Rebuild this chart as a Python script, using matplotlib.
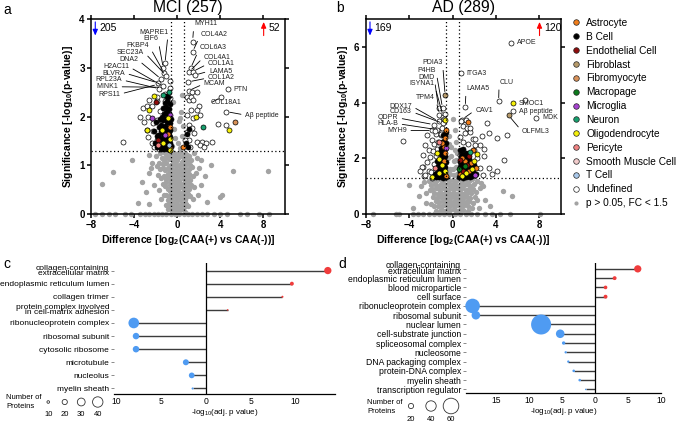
import numpy as np
import matplotlib.pyplot as plt
from matplotlib.lines import Line2D

plt.rcParams['font.family'] = ['Liberation Sans', 'DejaVu Sans']
plt.rcParams['mathtext.default'] = 'regular'

# ---------------- cell type colours ----------------
cell_types = ['Astrocyte', 'B Cell', 'Endothelial Cell', 'Fibroblast', 'Fibromyocyte',
              'Macropage', 'Microglia', 'Neuron', 'Oligodendrocyte', 'Pericyte',
              'Smooth Muscle Cell', 'T Cell', 'Undefined']
cell_colors = ['#f07d1a', '#000000', '#8e0c0c', '#b79b6b', '#d9925a', '#0c7a1c',
               '#a744d0', '#17a06e', '#f5f00a', '#f08383', '#f2cccc', '#a9c8ea', '#ffffff']
gray_color = '#a3a3a3'

# ---------------- panel a : MCI ----------------
mci_gray = [
    (0.35, 2.1), (0.2, 1.9), (-0.3, 1.75), (0.4, 1.6), (0.1, 1.45), (-0.4, 2.3), (0.45, 2.45),
    (0.3, 1.35), (-0.2, 1.55), (0.5, 1.8), (0.25, 1.96), (-0.45, 1.4),
    (-1.1, 1.25), (-0.9, 1.2), (-0.7, 1.27), (-0.5, 1.22), (-0.3, 1.26), (-0.1, 1.2), (0.1, 1.24),
    (0.3, 1.28), (0.5, 1.2), (0.7, 1.25), (0.9, 1.22), (1.1, 1.18), (-1.2, 1.1), (-1.0, 1.05),
    (-0.8, 1.12), (-0.6, 1.0), (-0.4, 1.08), (-0.2, 1.02), (0.0, 1.1), (0.2, 1.0), (0.4, 1.06),
    (0.6, 1.12), (0.8, 1.02), (1.0, 1.08), (1.3, 1.1), (-1.4, 1.15), (-1.3, 0.95), (-1.1, 0.9),
    (-0.9, 0.95), (-0.7, 0.88), (-0.5, 0.92), (-0.3, 0.85), (-0.1, 0.9), (0.1, 0.86), (0.3, 0.93),
    (0.5, 0.87), (0.7, 0.94), (0.9, 0.88), (1.1, 0.92), (1.4, 0.96), (-1.6, 0.92), (-1.2, 0.78),
    (-1.0, 0.72), (-0.8, 0.76), (-0.6, 0.7), (-0.4, 0.74), (-0.2, 0.68), (0.0, 0.75), (0.2, 0.7),
    (0.4, 0.77), (0.6, 0.72), (0.8, 0.68), (1.0, 0.75), (1.2, 0.7), (1.5, 0.78), (-1.5, 0.74),
    (-1.8, 0.8), (-1.1, 0.58), (-0.9, 0.52), (-0.7, 0.6), (-0.5, 0.55), (-0.3, 0.5), (-0.1, 0.58),
    (0.1, 0.52), (0.3, 0.6), (0.5, 0.54), (0.7, 0.5), (0.9, 0.58), (1.1, 0.52), (1.3, 0.6),
    (-1.3, 0.62), (1.6, 0.55), (-1.7, 0.5), (-1.0, 0.4), (-0.8, 0.35), (-0.6, 0.42), (-0.4, 0.36),
    (-0.2, 0.4), (0.0, 0.33), (0.2, 0.41), (0.4, 0.35), (0.6, 0.4), (0.8, 0.34), (1.0, 0.42),
    (1.2, 0.36), (-1.2, 0.38), (-1.5, 0.3), (1.5, 0.3), (-0.8, 0.2), (-0.6, 0.15), (-0.4, 0.22),
    (-0.2, 0.16), (0.0, 0.2), (0.2, 0.14), (0.4, 0.21), (0.6, 0.15), (0.8, 0.2), (-1.0, 0.18),
    (1.0, 0.16), (-0.5, 0.07), (-0.1, 0.06), (0.3, 0.08), (0.7, 0.05),
    (-1.0, 1.17), (-0.6, 1.15), (-0.2, 1.14), (0.2, 1.16), (0.6, 1.18), (1.0, 1.15), (-1.3, 1.02),
    (-0.7, 0.98), (-0.1, 0.99), (0.5, 1.0), (1.2, 1.0), (-0.9, 0.82), (-0.5, 0.8), (-0.1, 0.81),
    (0.3, 0.82), (0.7, 0.8), (1.1, 0.83), (-1.0, 0.65), (-0.6, 0.65), (-0.2, 0.64), (0.2, 0.66),
    (0.6, 0.64), (1.0, 0.66), (-0.7, 0.47), (-0.3, 0.45), (0.1, 0.46), (0.5, 0.45), (0.9, 0.47),
    (-0.9, 0.28), (-0.5, 0.29), (-0.1, 0.27), (0.3, 0.28), (0.7, 0.29), (-0.3, 0.1), (0.1, 0.12),
    (0.5, 0.1), (-0.9, 0.1), (1.7, 0.85), (-1.7, 1.05), (1.6, 1.25), (-1.6, 1.25), (2.2, 1.1),
    (-2.4, 0.95),
    (-2.0, 1.2), (-2.3, 1.05), (-1.9, 0.98), (-2.6, 0.85), (-2.2, 0.6), (-3.3, 0.65), (-3.6, 0.23),
    (-2.6, 0.2), (-2.9, 0.45), (-7.0, 0.62), (-5.93, 0.87), (-2.6, 1.21), (1.8, 1.15), (2.0, 0.95),
    (2.56, 0.77), (2.2, 0.6), (3.95, 0.34), (4.2, 0.4), (5.2, 0.88), (8.4, 0.88), (1.9, 0.4),
    (2.8, 0.25), (3.1, 1.0), (-4.2, 1.1),
    (-7.6, 0), (-7.0, 0), (-6.3, 0), (-5.77, 0), (-4.85, 0), (-4.3, 0), (-3.5, 0), (-3.0, 0),
    (-2.6, 0), (-2.2, 0), (-1.8, 0), (-1.4, 0), (-1.0, 0), (-0.6, 0), (-0.2, 0), (0.2, 0), (0.6, 0),
    (1.0, 0), (1.4, 0), (1.8, 0), (2.3, 0), (2.8, 0), (3.4, 0), (4.0, 0), (4.6, 0), (5.8, 0),
    (6.5, 0), (7.6, 0), (8.5, 0),
]
mci_undefined = [
    (-1.14, 3.09), (-1.29, 2.99), (-1.23, 2.90), (-1.04, 2.84), (-1.50, 2.77), (-0.67, 2.72),
    (-1.80, 2.69), (-1.29, 2.62), (-1.66, 2.57), (-0.67, 2.58), (-1.14, 2.47), (-1.91, 2.40),
    (-5.0, 1.48), (-3.50, 2.0), (-3.15, 2.17), (-2.78, 2.22), (-2.38, 2.22), (-1.91, 2.31),
    (-2.69, 1.99), (-3.09, 1.89), (-2.84, 1.73), (-2.69, 1.58), (-1.91, 1.51), (-2.28, 1.71),
    (-2.15, 1.38), (-1.66, 1.34), (-1.29, 1.48), (-2.22, 1.86), (-1.60, 2.12), (-0.82, 2.19),
    (-0.88, 2.05), (-0.67, 2.37), (-1.48, 1.93), (-1.14, 2.31), (-0.98, 1.76), (-1.35, 1.69),
    (-1.91, 1.93), (-2.38, 1.45), (-2.66, 2.34),
    (1.43, 3.52), (1.43, 3.33), (1.24, 2.99), (1.12, 2.92), (1.43, 2.92), (1.64, 2.85), (1.03, 2.71),
    (1.06, 2.53), (1.33, 2.50), (1.80, 2.50), (0.87, 2.39), (1.06, 2.34), (1.24, 2.40), (1.49, 2.34),
    (2.04, 2.22), (1.80, 2.14), (1.24, 2.14), (0.87, 2.04), (1.49, 1.97), (2.10, 2.04), (1.06, 1.83),
    (1.37, 1.76), (0.87, 1.69), (1.55, 1.66), (1.06, 1.52), (1.80, 1.48), (2.26, 1.48), (2.66, 1.45),
    (3.19, 1.48), (0.71, 1.52), (1.18, 1.38), (2.10, 1.42), (3.80, 1.85), (4.72, 2.56), (4.10, 2.40),
    (4.57, 2.10), (4.57, 1.83), (2.47, 1.38),
]
mci_bcell = [
    (-0.65, 1.32), (-0.75, 1.35), (-0.9, 1.33), (-1.05, 1.36), (-1.2, 1.34), (-1.35, 1.38), (-1.5, 1.33),
    (-1.65, 1.4), (-0.7, 1.45), (-0.85, 1.48), (-1.0, 1.44), (-1.15, 1.5), (-1.3, 1.47), (-1.45, 1.52),
    (-1.6, 1.55), (-0.65, 1.58), (-0.8, 1.62), (-0.95, 1.57), (-1.1, 1.63), (-1.25, 1.6), (-1.4, 1.66),
    (-1.55, 1.7), (-1.75, 1.62), (-0.7, 1.72), (-0.88, 1.76), (-1.02, 1.72), (-1.18, 1.8), (-1.32, 1.75),
    (-1.48, 1.82), (-1.7, 1.78), (-0.66, 1.86), (-0.82, 1.9), (-0.98, 1.88), (-1.12, 1.95), (-1.28, 1.92),
    (-1.42, 1.98), (-1.62, 1.94), (-0.72, 2.0), (-0.9, 2.05), (-1.05, 2.1), (-1.22, 2.06), (-0.8, 2.15),
    (-1.0, 2.2), (-1.3, 2.18), (-0.68, 2.25), (-0.95, 2.32), (-1.15, 2.28), (-0.75, 1.68), (-0.6, 1.4),
    (-2.05, 1.45), (-1.9, 1.6), (-2.2, 1.7), (-2.0, 1.88), (-1.85, 1.38), (-0.62, 1.95), (-0.85, 2.4),
    (-1.08, 2.42), (0.9, 1.65), (1.1, 1.75), (0.8, 1.45), (1.0, 1.38),
]
mci_astrocyte = [(-0.68, 1.79), (-0.83, 1.65), (-0.65, 1.35), (0.56, 1.37)]
mci_endothelial = [(-1.97, 2.30), (-1.75, 1.52)]
mci_fibromyocyte = [(5.34, 1.89)]
mci_microglia = [(-2.31, 1.96), (-0.68, 2.03), (-1.14, 1.62)]
mci_neuron = [(-0.74, 2.51), (-1.30, 2.44), (2.41, 1.79)]
mci_oligo = [(-2.13, 2.43), (-2.62, 2.13), (-0.89, 1.96), (-1.44, 1.72), (-2.83, 1.72), (-1.30, 1.45),
             (-0.68, 1.54), (-0.7, 1.32), (1.73, 2.0), (4.79, 1.72)]
mci_pericyte = [(-1.75, 1.42)]
mci_tcell = [(-0.72, 1.42)]

mci_left_names = ['MAPRE1', 'EIF6', 'FKBP4', 'SEC23A', 'DNA2', 'H2AC11', 'BLVRA', 'RPL23A', 'MINK1', 'RPS11']
mci_left_text = [(-0.83, 3.73), (-1.79, 3.59), (-2.62, 3.45), (-3.08, 3.32), (-3.64, 3.16),
                 (-4.47, 3.02), (-4.84, 2.89), (-5.12, 2.75), (-5.49, 2.61), (-5.3, 2.46)]
mci_left_target = [(-1.14, 3.09), (-1.29, 2.99), (-1.23, 2.90), (-1.04, 2.84), (-1.50, 2.77),
                   (-1.29, 2.62), (-1.80, 2.69), (-1.66, 2.57), (-1.4, 2.6), (-1.8, 2.66)]
mci_right_names = ['MYH11', 'COL4A2', 'COL6A3', 'COL4A1', 'COL1A1', 'LAMA5', 'COL1A2', 'MCAM', 'COL18A1', 'A\u03b2 peptide']
mci_right_text = [(1.55, 3.90), (2.19, 3.69), (2.10, 3.41), (2.47, 3.22), (2.84, 3.08),
                  (2.94, 2.93), (2.84, 2.79), (2.47, 2.67), (3.12, 2.28), (6.3, 2.03)]
mci_right_target = [(1.43, 3.55), (1.43, 3.33), (1.24, 2.99), (1.12, 2.92), (1.43, 2.92),
                    (1.64, 2.85), (1.03, 2.71), (1.06, 2.53), (4.10, 2.40), (4.57, 2.10)]
mci_side_names = ['PTN']
mci_side_pos = [(4.72, 2.56)]

# ---------------- panel b : AD ----------------
ad_gray = [
    (0.0, 3.4), (0.2, 3.0), (-0.3, 2.8), (0.35, 2.6), (-0.1, 2.4), (0.4, 2.2), (-0.4, 2.0), (0.1, 1.9),
    (0.3, 1.7), (-0.2, 1.6), (0.45, 1.45), (-0.45, 1.35), (0.15, 1.4), (-0.35, 2.5), (0.25, 2.3),
    (-0.1, 2.1), (0.05, 1.6), (-0.25, 1.45), (0.3, 1.95),
    (-2.2, 1.2), (-1.8, 1.22), (-1.5, 1.18), (-1.2, 1.25), (-0.9, 1.2), (-0.6, 1.24), (-0.3, 1.19),
    (0.0, 1.23), (0.3, 1.2), (0.6, 1.26), (0.9, 1.18), (1.2, 1.22), (1.5, 1.19), (1.8, 1.24), (2.3, 1.2),
    (-2.0, 1.05), (-1.65, 1.08), (-1.35, 1.02), (-1.05, 1.07), (-0.75, 1.03), (-0.45, 1.08), (-0.15, 1.04),
    (0.15, 1.07), (0.45, 1.02), (0.75, 1.06), (1.05, 1.03), (1.35, 1.08), (1.65, 1.02), (2.0, 1.06),
    (-2.9, 1.0), (2.8, 1.0), (-4.0, 1.05),
    (-1.9, 0.9), (-1.5, 0.92), (-1.2, 0.88), (-0.9, 0.93), (-0.6, 0.87), (-0.3, 0.91), (0.0, 0.89),
    (0.3, 0.93), (0.6, 0.88), (0.9, 0.92), (1.2, 0.87), (1.5, 0.91), (1.9, 0.88), (2.5, 0.92),
    (-2.4, 0.75), (-1.7, 0.76), (-1.35, 0.72), (-1.05, 0.77), (-0.75, 0.73), (-0.45, 0.76), (-0.15, 0.72),
    (0.15, 0.77), (0.45, 0.73), (0.75, 0.76), (1.05, 0.72), (1.35, 0.77), (1.7, 0.74), (2.2, 0.78), (4.7, 0.81),
    (-3.1, 0.63), (-1.8, 0.6), (-1.4, 0.58), (-1.1, 0.62), (-0.8, 0.57), (-0.5, 0.61), (-0.2, 0.58),
    (0.1, 0.62), (0.4, 0.57), (0.7, 0.61), (1.0, 0.58), (1.3, 0.62), (1.6, 0.57), (2.1, 0.6), (5.5, 0.66),
    (3.0, 0.5), (-2.4, 0.4), (-1.5, 0.45), (-1.2, 0.42), (-0.9, 0.46), (-0.6, 0.43), (-0.3, 0.47),
    (0.0, 0.42), (0.3, 0.46), (0.6, 0.43), (0.9, 0.47), (1.2, 0.42), (1.5, 0.45), (1.9, 0.4), (3.5, 0.3),
    (-1.7, 0.28), (-1.3, 0.3), (-1.0, 0.27), (-0.7, 0.31), (-0.4, 0.28), (-0.1, 0.32), (0.2, 0.27),
    (0.5, 0.31), (0.8, 0.28), (1.1, 0.32), (1.4, 0.27), (-3.6, 0.2), (2.4, 0.22),
    (-1.1, 0.15), (-0.8, 0.12), (-0.5, 0.16), (-0.2, 0.13), (0.1, 0.17), (0.4, 0.12), (0.7, 0.15),
    (1.0, 0.13), (-1.5, 0.1), (1.4, 0.1), (-2.6, 1.15), (2.6, 1.12), (-2.1, 0.85), (2.3, 0.5),
    (-2.0, 0.35), (1.8, 0.2),
    (-7.3, 0), (-5.2, 0), (-4.9, 0), (-3.6, 0), (-3.2, 0), (-2.7, 0), (-2.2, 0), (-1.7, 0), (-1.2, 0),
    (-0.8, 0), (-0.3, 0), (0.2, 0), (0.7, 0), (1.2, 0), (1.7, 0), (2.3, 0), (3.0, 0), (3.6, 0),
    (4.4, 0), (5.3, 0), (8.1, 0),
]
ad_undefined = [
    (-1.29, 3.81), (-0.92, 3.81), (-1.2, 3.57), (-0.86, 3.5), (-1.29, 3.33), (-0.86, 3.25), (-1.75, 3.21),
    (-1.44, 3.03), (-1.85, 3.0), (-0.98, 2.97), (-1.54, 2.88), (-1.08, 2.83), (-0.67, 2.91), (-4.52, 2.62),
    (-2.36, 2.85), (-1.9, 2.67), (-2.52, 2.49), (-2.2, 2.3), (-2.68, 2.13), (-2.05, 2.05), (-2.36, 1.88),
    (-1.75, 1.78), (-2.68, 1.7), (-2.2, 1.53), (-1.6, 1.42), (-2.83, 1.69), (-1.9, 1.31), (-1.44, 2.34),
    (-1.1, 2.86), (-1.6, 2.98), (-0.95, 3.1), (-2.67, 1.38), (-1.7, 2.5), (-1.3, 2.6), (-2.0, 1.5),
    (-1.55, 2.1), (-1.8, 2.25), (-0.7, 3.6), (-0.75, 3.4), (-2.5, 1.4), (-3.0, 1.55),
    (0.78, 5.05), (1.17, 3.84), (0.87, 3.39), (4.25, 4.05), (6.71, 4.10), (5.58, 3.69), (7.73, 3.45),
    (5.42, 6.15), (0.8, 3.33), (1.01, 3.15), (1.5, 3.05), (1.63, 2.93), (3.17, 3.27), (4.1, 2.73),
    (1.93, 2.7), (2.56, 2.49), (2.89, 2.33), (0.87, 2.31), (0.65, 2.13), (2.86, 2.07), (3.32, 1.65),
    (4.1, 1.53), (3.32, 2.91), (5.02, 2.82), (4.71, 1.95), (2.1, 2.7), (2.71, 2.79), (1.94, 2.31),
    (1.17, 2.91), (1.3, 3.1), (2.5, 1.65), (1.24, 3.39), (1.63, 3.09), (2.1, 2.49), (1.0, 2.6),
    (1.4, 2.5), (2.3, 2.0), (3.6, 1.45), (2.8, 1.4), (0.7, 2.75),
]
ad_bcell = [
    (-0.6, 1.32), (-0.75, 1.35), (-0.9, 1.31), (-1.05, 1.36), (-1.2, 1.33), (-1.35, 1.38), (-1.5, 1.34),
    (-0.65, 1.5), (-0.8, 1.55), (-0.95, 1.48), (-1.1, 1.58), (-1.25, 1.5), (-1.4, 1.6), (-0.7, 1.7),
    (-0.85, 1.75), (-1.0, 1.68), (-1.15, 1.8), (-1.3, 1.72), (-0.6, 1.88), (-0.75, 1.95), (-0.9, 1.9),
    (-1.05, 2.0), (-1.2, 1.95), (-0.65, 2.1), (-0.8, 2.18), (-0.95, 2.12), (-1.1, 2.25), (-0.7, 2.35),
    (-0.88, 2.42), (-1.02, 2.38), (-0.62, 2.55), (-0.8, 2.62), (-0.95, 2.6), (-0.7, 2.8), (-0.85, 2.85),
    (-0.6, 2.95), (-1.3, 2.2), (-1.45, 1.9), (-1.6, 1.45),
    (0.62, 1.32), (0.8, 1.35), (0.95, 1.31), (1.1, 1.37), (1.25, 1.33), (1.4, 1.38), (1.6, 1.34),
    (1.8, 1.36), (0.7, 1.5), (0.85, 1.55), (1.0, 1.48), (1.15, 1.58), (1.3, 1.5), (1.45, 1.56),
    (1.65, 1.48), (1.9, 1.52), (0.65, 1.7), (0.8, 1.75), (0.95, 1.68), (1.1, 1.8), (1.25, 1.72),
    (1.4, 1.78), (1.6, 1.7), (0.7, 1.88), (0.85, 1.95), (1.0, 1.9), (1.2, 2.0), (1.35, 1.92),
    (1.55, 1.98), (0.75, 2.1), (0.9, 2.15), (1.05, 2.05), (1.25, 2.2), (0.7, 2.3), (0.95, 2.35),
    (1.4, 2.15), (2.0, 1.75), (2.2, 1.45),
]
ad_astrocyte = [(-0.68, 2.73), (-0.77, 2.41), (-0.77, 1.92), (-0.58, 1.38), (-0.68, 2.19), (-1.0, 2.55),
                (-0.6, 3.0), (1.39, 3.30), (1.17, 1.89), (1.73, 1.83), (0.9, 2.0), (1.5, 1.55), (2.2, 1.65),
                (0.7, 1.45), (1.9, 2.3)]
ad_endothelial = [(1.54, 2.07), (0.65, 1.93), (1.01, 1.56), (1.3, 1.75)]
ad_fibroblast = [(-0.68, 4.27), (5.17, 3.54)]
ad_macrophage = [(1.11, 1.71), (0.6, 1.6)]
ad_microglia = [(-0.58, 2.37), (2.1, 1.41)]
ad_neuron = [(1.63, 2.22)]
ad_oligo = [(-0.68, 3.39), (-1.29, 1.98), (-1.23, 1.47), (-1.9, 1.33), (-1.0, 1.75), (-0.65, 1.55),
            (-1.45, 2.2), (2.25, 2.17), (2.0, 1.9), (1.24, 1.47), (5.58, 3.97), (1.8, 1.6), (0.9, 1.35)]
ad_pericyte = [(-1.29, 2.58), (-1.6, 1.65)]

ad_left_names = ['PDIA3', 'P4HB', 'DMD', 'ISYNA1', 'TPM4', 'DDX17', 'CD163', 'QDPR', 'HLA-B', 'MYH9']
ad_left_text = [(-0.92, 5.43), (-1.53, 5.15), (-1.69, 4.91), (-1.69, 4.68), (-1.6, 4.19),
                (-3.75, 3.87), (-3.75, 3.67), (-5.01, 3.45), (-5.01, 3.24), (-4.21, 3.0)]
ad_left_target = [(-0.68, 4.27), (-0.92, 3.81), (-1.29, 3.81), (-0.86, 3.5), (-1.2, 3.57),
                  (-1.29, 3.33), (-0.86, 3.25), (-1.75, 3.21), (-1.44, 3.03), (-1.85, 3.0)]
ad_right_names = ['LAMA5', 'CLU', 'CAV1', 'OLFML3']
ad_right_text = [(1.26, 4.5), (4.3, 4.73), (2.1, 3.73), (6.4, 2.97)]
ad_right_target = [(1.17, 3.84), (4.25, 4.05), (0.87, 3.39), (5.17, 3.54)]
ad_side_names = ['ITGA3', 'APOE', 'SMOC1', 'A\u03b2 peptide', 'MDK']
ad_side_pos = [(0.78, 5.05), (5.42, 6.15), (5.58, 3.97), (5.58, 3.69), (7.73, 3.45)]

# ---------------- panels c / d : GO terms ----------------
go_c_terms = ['collagen-containing\nextracellular matrix', 'endoplasmic reticulum lumen', 'collagen trimer',
              'protein complex involved\nin cell-matrix adhesion', 'ribonucleoprotein complex',
              'ribosomal subunit', 'cytosolic ribosome', 'microtubule', 'nucleolus', 'myelin sheath']
go_c_values = [13.6, 9.6, 8.55, 2.45, -8.0, -7.75, -7.75, -2.2, -1.55, -1.45]
go_c_counts = [28, 15, 8, 6, 41, 25, 25, 23, 22, 8]

go_d_terms = ['collagen-containing\nextracellular matrix', 'endoplasmic reticulum lumen', 'blood microparticle',
              'cell surface', 'ribonucleoprotein complex', 'ribosomal subunit', 'nuclear lumen',
              'cell-substrate junction', 'spliceosomal complex', 'nucleosome', 'DNA packaging complex',
              'protein-DNA complex', 'myelin sheath', 'transcription regulator']
go_d_values = [6.47, 2.96, 1.58, 1.58, -18.6, -18.1, -8.2, -5.3, -4.78, -4.47, -4.07, -3.25, -2.34, -1.42]
go_d_counts = [28, 15, 14, 15, 56, 33, 77, 33, 13, 9, 9, 10, 10, 6]

c_size_keys = [10, 20, 30, 40]
d_size_keys = [20, 40, 60]


def xy(pts):
    arr = np.array(pts, dtype=float)
    return arr[:, 0], arr[:, 1]


def volcano(ax, gray, groups, ymax, yticks, title, n_down, n_up,
            left, right, side):
    gx, gy = xy(gray)
    ax.scatter(gx, gy, s=15, c=gray_color, lw=0, clip_on=False, zorder=2)
    for pts, col in groups:
        px, py = xy(pts)
        ax.scatter(px, py, s=13, facecolor=col, edgecolor='black', lw=0.5, clip_on=False, zorder=3)
    for v in (-0.585, 0.585):
        ax.axvline(v, ls=(0, (1, 2)), color='black', lw=0.9, zorder=4)
    ax.axhline(1.3, ls=(0, (1, 2)), color='black', lw=0.9, zorder=4)
    ax.set_xlim(-8, 10)
    ax.set_ylim(0, ymax)
    ax.set_xticks([-8, -4, 0, 4, 8])
    ax.set_yticks(yticks)
    for s in ax.spines.values():
        s.set_linewidth(1.1)
    ax.tick_params(direction='out', top=True, right=True, length=3, width=1.1, labelsize=7, pad=1.5)
    for lbl in ax.get_xticklabels() + ax.get_yticklabels():
        lbl.set_fontweight('bold')
    ax.set_xlabel('Difference [log$_{2}$(CAA(+) vs CAA(-))]', fontsize=7.5, fontweight='bold', labelpad=2)
    ax.set_ylabel('Significance [-log$_{10}$(p-value)]', fontsize=7.5, fontweight='bold', labelpad=3)
    ax.set_title(title, fontsize=11.3, pad=5)

    # counters
    arrow = '-|>,head_length=0.35,head_width=0.15'
    ax.annotate('', xy=(0.022, 0.915), xytext=(0.022, 0.985), xycoords='axes fraction',
                arrowprops=dict(arrowstyle=arrow, color='blue', lw=0.8, shrinkA=0, shrinkB=0))
    ax.text(0.045, 0.955, str(n_down), transform=ax.transAxes, fontsize=7.5, va='center')
    ax.annotate('', xy=(0.89, 0.985), xytext=(0.89, 0.915), xycoords='axes fraction',
                arrowprops=dict(arrowstyle=arrow, color='red', lw=0.8, shrinkA=0, shrinkB=0))
    ax.text(0.913, 0.955, str(n_up), transform=ax.transAxes, fontsize=7.5, va='center')

    names, texts, targets = left
    for n, t, p in zip(names, texts, targets):
        ax.annotate(n, xy=p, xytext=t, ha='right', va='center', fontsize=5, color='#222222',
                    arrowprops=dict(arrowstyle='-', lw=0.6, color='black', relpos=(1, 0.5),
                                    shrinkA=1, shrinkB=2.5), zorder=5)
    names, texts, targets = right
    for n, t, p in zip(names, texts, targets):
        ax.annotate(n, xy=p, xytext=t, ha='left', va='center', fontsize=5, color='#222222',
                    arrowprops=dict(arrowstyle='-', lw=0.6, color='black', relpos=(0, 0.5),
                                    shrinkA=1, shrinkB=2.5), zorder=5)
    names, pos = side
    for n, p in zip(names, pos):
        ax.annotate(n, xy=p, xytext=(4, 0), textcoords='offset points', ha='left', va='center',
                    fontsize=5, color='#222222', zorder=5)


def lollipop(ax, terms, values, counts, xlim, xticks, fs, lsp):
    ypos = np.arange(len(terms))
    vals = np.array(values)
    cols = np.where(vals > 0, '#f03c3c', '#4f9bf2')
    ax.hlines(ypos, 0, vals, color='#3c3c3c', lw=1.0, zorder=2)
    ax.scatter(vals, ypos, s=(0.1872 * np.array(counts)) ** 2, c=cols, lw=0, zorder=3, clip_on=False)
    ax.axvline(0, color='black', lw=0.9, zorder=2)
    ax.set_yticks(ypos)
    ax.set_yticklabels(terms, fontsize=fs)
    for lbl in ax.get_yticklabels():
        lbl.set_linespacing(lsp)
    ax.set_ylim(len(terms) - 1 + 0.42, -0.6)
    ax.set_xlim(*xlim)
    ax.set_xticks(xticks)
    ax.set_xticklabels([str(abs(t)) for t in xticks], fontsize=6.2)
    for side in ('top', 'right', 'left'):
        ax.spines[side].set_visible(False)
    ax.spines['bottom'].set_linewidth(0.9)
    ax.tick_params(axis='y', length=2, width=0.6, color='#777777', pad=1.5)
    ax.tick_params(axis='x', length=0, pad=2)
    ax.set_xlabel('-log$_{10}$(adj. p value)', fontsize=5.8, labelpad=1)


def size_key(fig, rect, keys):
    kax = fig.add_axes(rect)
    kx = np.arange(len(keys))
    kax.scatter(kx, np.zeros(len(keys)), s=(0.1872 * np.array(keys)) ** 2, facecolor='white',
                edgecolor='#333333', lw=0.6, clip_on=False)
    for i, k in enumerate(keys):
        kax.text(i, -1.2, str(k), ha='center', va='center', fontsize=5.5)
    kax.set_xlim(-0.5, len(keys) - 0.5)
    kax.set_ylim(-1.6, 0.8)
    kax.axis('off')


fig = plt.figure(figsize=(6.76, 4.24), dpi=100)
W, H = 676.0, 424.0

ax_a = fig.add_axes([91 / W, 1 - 214 / H, 194 / W, 195 / H])
volcano(ax_a, mci_gray,
        [(mci_undefined, 'white'), (mci_bcell, 'black'), (mci_astrocyte, cell_colors[0]),
         (mci_endothelial, cell_colors[2]), (mci_fibromyocyte, cell_colors[4]),
         (mci_microglia, cell_colors[6]), (mci_neuron, cell_colors[7]), (mci_oligo, cell_colors[8]),
         (mci_pericyte, cell_colors[9]), (mci_tcell, cell_colors[11])],
        4, [0, 1, 2, 3, 4], 'MCI (257)', 205, 52,
        (mci_left_names, mci_left_text, mci_left_target),
        (mci_right_names, mci_right_text, mci_right_target),
        (mci_side_names, mci_side_pos))

ax_b = fig.add_axes([365.7 / W, 1 - 214 / H, 195.3 / W, 195 / H])
volcano(ax_b, ad_gray,
        [(ad_undefined, 'white'), (ad_bcell, 'black'), (ad_astrocyte, cell_colors[0]),
         (ad_endothelial, cell_colors[2]), (ad_fibroblast, cell_colors[3]),
         (ad_macrophage, cell_colors[5]), (ad_microglia, cell_colors[6]), (ad_neuron, cell_colors[7]),
         (ad_oligo, cell_colors[8]), (ad_pericyte, cell_colors[9])],
        7, [0, 2, 4, 6], 'AD (289)', 169, 120,
        (ad_left_names, ad_left_text, ad_left_target),
        (ad_right_names, ad_right_text, ad_right_target),
        (ad_side_names, ad_side_pos))

handles = [Line2D([], [], ls='', marker='o', markersize=4, markerfacecolor=c,
                  markeredgecolor='#222222', markeredgewidth=0.5) for c in cell_colors]
handles.append(Line2D([], [], ls='', marker='o', markersize=3, markerfacecolor=gray_color,
                      markeredgewidth=0))
fig.legend(handles, cell_types + ['p > 0.05, FC < 1.5'], loc='upper left',
           bbox_to_anchor=(571 / W, 1 - 18 / H), frameon=False, fontsize=7.3,
           handletextpad=0.5, labelspacing=0.38, handlelength=1.0, borderpad=0, borderaxespad=0)

ax_c = fig.add_axes([114 / W, 1 - 394 / H, 221 / W, 131.3 / H])
lollipop(ax_c, go_c_terms, go_c_values, go_c_counts, (-10.2, 14.4), [-10, -5, 0, 5, 10], 6.0, 0.72)

ax_d = fig.add_axes([466 / W, 1 - 393.3 / H, 195 / W, 130 / H])
lollipop(ax_d, go_d_terms, go_d_values, go_d_counts, (-19.6, 10), [-15, -10, -5, 0, 5, 10], 6.2, 0.66)

fig.text(6 / W, 1 - 402 / H, 'Number of\nProteins', fontsize=5.5, va='center', linespacing=1.5)
size_key(fig, [40 / W, 1 - 418 / H, 66 / W, 24 / H], c_size_keys)
fig.text(367 / W, 1 - 407 / H, 'Number of\nProteins', fontsize=5.5, va='center', linespacing=1.5)
size_key(fig, [401 / W, 1 - 424 / H, 60 / W, 27 / H], d_size_keys)

for lbl, x, y in [('a', 3, 10), ('b', 336, 8), ('c', 3, 264), ('d', 338, 264)]:
    fig.text(x / W, 1 - y / H, lbl, fontsize=10, va='center')

fig.savefig('out.png', dpi=100)
